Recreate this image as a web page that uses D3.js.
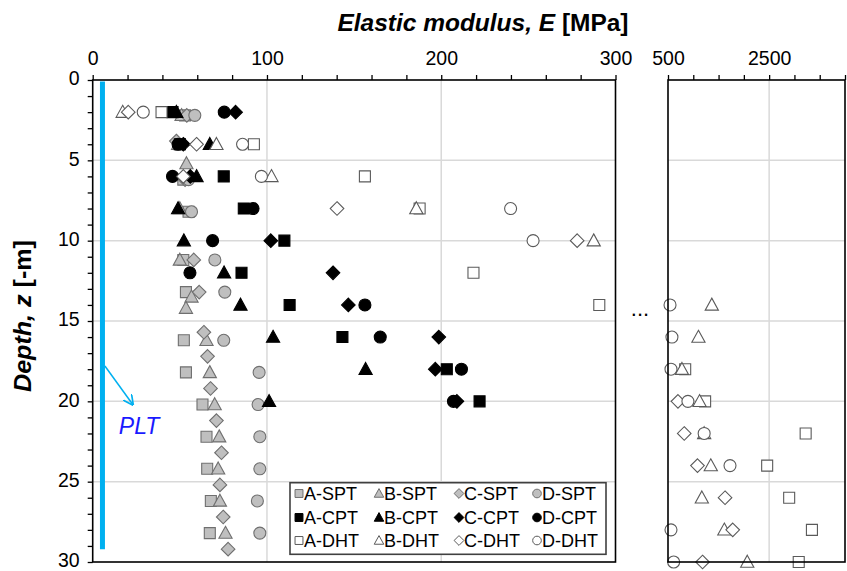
<!DOCTYPE html>
<html><head><meta charset="utf-8">
<script src="https://cdn.jsdelivr.net/npm/d3@7"></script>
<style>
body{margin:0;background:#fff}
svg{display:block}
text{font-family:"Liberation Sans",Arial,sans-serif}
</style></head>
<body><svg id="c" width="847" height="571"></svg>
<script>
// ---------- DATA (depth z [m], elastic modulus E [MPa]) ----------
const A_SPT_z = [2.2, 4, 6.2, 8.2, 11.2, 13.2, 16.2, 18.2, 20.2, 22.2, 24.2, 26.2, 28.2];
const A_SPT_E = [53, 50, 52, 55, 52, 53.5, 52.3, 53.5, 63, 65.3, 65.7, 67.8, 67.2];
const B_SPT_z = [2.2, 4, 5.2, 8, 11.2, 13.5, 14.2, 16.2, 18.2, 20.2, 22.2, 24.2, 26.2, 28.2];
const B_SPT_E = [51, 49, 53.8, 50, 50, 56.7, 53.5, 65.3, 67.2, 70, 72.6, 72, 73, 76.2];
const C_SPT_z = [2.2, 3.8, 6.2, 11.2, 13.2, 15.7, 17.2, 19.2, 21.2, 23.2, 25.2, 27.2, 29.2];
const C_SPT_E = [54, 48, 53, 58, 61.1, 63.8, 65.9, 67.6, 71, 73.9, 73, 74.9, 77.7];
const D_SPT_z = [2.2, 6.2, 8.2, 11.2, 13.2, 16.2, 18.2, 20.2, 22.2, 24.2, 26.2, 28.2];
const D_SPT_E = [58.6, 55, 56.7, 70.1, 75.8, 75.2, 95.5, 94.9, 95.9, 95.9, 94.5, 95.9];

const A_CPT_z = [2, 4, 6, 8, 10, 12, 14, 16, 18, 20];
const A_CPT_E = [45.8, 50, 75.2, 86.7, 110, 85.4, 113, 143.3, 203.2, 222];
const B_CPT_z = [2, 4, 6, 8, 10, 12, 14, 16, 18, 20];
const B_CPT_E = [48, 67.2, 59.6, 49, 52.3, 75.4, 84.8, 103.5, 156.6, 101.2];
const C_CPT_z = [2, 4, 6, 10, 12, 14, 16, 18, 20];
const C_CPT_E = [82, 52, 56, 102.2, 137.9, 146.7, 198.6, 196.6, 209];
const D_CPT_z = [2, 4, 6, 8, 10, 12, 14, 16, 18, 20];
const D_CPT_E = [75.5, 49, 45.8, 92, 68.8, 55.8, 156.2, 165, 211.6, 207];

const A_DHT_z = [2, 4, 6, 8, 12, 14, 18, 20, 22, 24, 26, 28, 30];
const A_DHT_E = [39.5, 92.5, 156.2, 187.6, 218.5, 290.7, 840, 1234, 3222, 2461, 2896, 3346, 3085];
const B_DHT_z = [2, 4, 6, 8, 10, 14, 16, 18, 20, 22, 24, 26, 28, 30];
const B_DHT_E = [17.2, 71, 102.6, 185.7, 287.5, 1366, 1102, 776, 1124, 1215, 1346, 1169, 1614, 2067];
const C_DHT_z = [2, 4, 6, 8, 10, 20, 22, 24, 26, 28, 30];
const C_DHT_E = [20.4, 59.6, 52, 140.2, 278, 697, 821, 1083, 1628, 1780, 1183];
const D_DHT_z = [2, 4, 6, 8, 10, 14, 16, 18, 20, 22, 24, 28, 30];
const D_DHT_E = [29, 86, 96.8, 239.8, 252.7, 540, 578, 559, 894, 1215, 1726, 559, 612];

const seriesNames = ["A-SPT","B-SPT","C-SPT","D-SPT","A-CPT","B-CPT","C-CPT","D-CPT","A-DHT","B-DHT","C-DHT","D-DHT"];
const xTicksMain = [0, 100, 200, 300];
const xTicksRight = [500, 2500];
const yTickLabels = [0, 5, 10, 15, 20, 25, 30];
const pltE = 5.6, pltTop = 0.1, pltBottom = 29.2;

// ---------- SETUP ----------
const svg = d3.select("#c");
const x1 = d3.scaleLinear().domain([0, 300]).range([92.7, 615.5]);
const x2 = d3.scaleLinear().domain([500, 4000]).range([668, 845]);
const y = d3.scaleLinear().domain([0, 30]).range([80, 562]);

const zs = [A_SPT_z,B_SPT_z,C_SPT_z,D_SPT_z,A_CPT_z,B_CPT_z,C_CPT_z,D_CPT_z,A_DHT_z,B_DHT_z,C_DHT_z,D_DHT_z];
const Es = [A_SPT_E,B_SPT_E,C_SPT_E,D_SPT_E,A_CPT_E,B_CPT_E,C_CPT_E,D_CPT_E,A_DHT_E,B_DHT_E,C_DHT_E,D_DHT_E];
const shapes = ["square","triangle","diamond","circle"];
const styles = [
  {fill:"#bfbfbf", stroke:"#6f6f6f"},
  {fill:"#000000", stroke:"#000000"},
  {fill:"#ffffff", stroke:"#5a5a5a"}
];

function shapePath(type, k){
  const s = k || 1;
  if(type==="square"){const h=5.5*s;return `M${-h},${-h}h${2*h}v${2*h}h${-2*h}Z`;}
  if(type==="diamond"){const h=6.8*s;return `M0,${-h}L${h},0L0,${h}L${-h},0Z`;}
  if(type==="triangle"){const w=6.6*s,t=6.8*s,b=5.2*s;return `M0,${-t}L${w},${b}L${-w},${b}Z`;}
  const r=6*s;return `M${r},0A${r},${r} 0 1,1 ${-r},0A${r},${r} 0 1,1 ${r},0Z`;
}

// ---------- GRID ----------
const grid = svg.append("g").attr("stroke","#d9d9d9").attr("stroke-width",1.5);
[5,10,15,20,25].forEach(d=>{
  grid.append("line").attr("x1",x1(0)).attr("x2",x1(300)).attr("y1",y(d)).attr("y2",y(d));
  grid.append("line").attr("x1",x2(500)).attr("x2",x2(4000)).attr("y1",y(d)).attr("y2",y(d));
});
[100,200].forEach(v=>grid.append("line").attr("x1",x1(v)).attr("x2",x1(v)).attr("y1",y(0)).attr("y2",y(30)));
grid.append("line").attr("x1",x2(2500)).attr("x2",x2(2500)).attr("y1",y(0)).attr("y2",y(30));

// ---------- PLT line and annotation ----------
svg.append("line").attr("x1",x1(pltE)).attr("x2",x1(pltE)).attr("y1",y(pltTop)).attr("y2",y(pltBottom))
  .attr("stroke","#00b0f0").attr("stroke-width",5);
svg.append("defs").append("marker").attr("id","arr").attr("viewBox","0 0 10 10").attr("refX",9).attr("refY",5)
  .attr("markerWidth",7).attr("markerHeight",7).attr("orient","auto")
  .append("path").attr("d","M0,0L10,5L0,10").attr("fill","none").attr("stroke","#00b0f0").attr("stroke-width",1.6);
svg.append("line").attr("x1",x1(7)).attr("y1",y(17.8)).attr("x2",x1(23)).attr("y2",y(20.2))
  .attr("stroke","#00b0f0").attr("stroke-width",1.5).attr("marker-end","url(#arr)");
svg.append("text").attr("x",x1(15)).attr("y",y(22.05)).attr("font-size",23).attr("font-style","italic")
  .attr("fill","#1a1aff").text("PLT");

// ---------- POINTS ----------
const pts = svg.append("g");
Es.forEach((vals, si)=>{
  const shp = shapes[si%4], st = styles[Math.floor(si/4)];
  vals.forEach((E,i)=>{
    const px = E <= 300 ? x1(E) : x2(E);
    pts.append("path").attr("d",shapePath(shp,1)).attr("transform",`translate(${px},${y(zs[si][i])})`)
      .attr("fill",st.fill).attr("stroke",st.stroke).attr("stroke-width",1.1);
  });
});

// ---------- AXES ----------
function styleAxis(g){
  g.select(".domain").remove();
  g.selectAll(".tick line").attr("stroke","#000").attr("stroke-width",1.3);
  g.selectAll(".tick text").attr("font-size",19.5).attr("fill","#000").attr("font-family","Liberation Sans, Arial, sans-serif");
}
svg.append("g").attr("transform",`translate(0,${y(0)})`)
  .call(d3.axisTop(x1).tickValues(d3.range(0,301,20)).tickSize(5).tickPadding(10)
    .tickFormat(d=>xTicksMain.includes(d)?d:"")).call(styleAxis);
svg.append("g").attr("transform",`translate(0,${y(0)})`)
  .call(d3.axisTop(x2).tickValues(d3.range(500,4001,500)).tickSize(5).tickPadding(10)
    .tickFormat(d=>xTicksRight.includes(d)?d:"")).call(styleAxis);
svg.append("g").attr("transform",`translate(${x1(0)},0)`)
  .call(d3.axisLeft(y).tickValues(d3.range(0,31,1)).tickSize(5).tickPadding(8)
    .tickFormat(d=>yTickLabels.includes(d)?d:"")).call(styleAxis)
  .call(g=>g.selectAll(".tick text").attr("dy","0.25em"));

// frames
svg.append("rect").attr("x",x1(0)).attr("y",y(0)).attr("width",x1(300)-x1(0)).attr("height",y(30)-y(0))
  .attr("fill","none").attr("stroke","#000").attr("stroke-width",1.6);
svg.append("rect").attr("x",x2(500)).attr("y",y(0)).attr("width",x2(4000)-x2(500)).attr("height",y(30)-y(0))
  .attr("fill","none").attr("stroke","#000").attr("stroke-width",1.6);

// break dots
svg.append("text").attr("x",640).attr("y",316).attr("text-anchor","middle").attr("font-size",22).text("...");

// titles
const tt = svg.append("text").attr("x",483).attr("y",31).attr("text-anchor","middle").attr("font-size",23)
  .attr("font-weight","bold").attr("textLength",291).attr("lengthAdjust","spacingAndGlyphs");
tt.append("tspan").attr("font-style","italic").text("Elastic modulus, E");
tt.append("tspan").text(" [MPa]");
const yt = svg.append("text").attr("transform","translate(31,316) rotate(-90)").attr("text-anchor","middle")
  .attr("font-size",23).attr("font-weight","bold").attr("textLength",152).attr("lengthAdjust","spacingAndGlyphs");
yt.append("tspan").attr("font-style","italic").text("Depth, z");
yt.append("tspan").text(" [-m]");

// ---------- LEGEND ----------
const lg = svg.append("g");
lg.append("rect").attr("x",290).attr("y",482.7).attr("width",316).attr("height",71.6)
  .attr("fill","#fff").attr("stroke","#404040").attr("stroke-width",1.6);
const colX = [299, 379, 459, 537], rowY = [493.5, 517.5, 540.5];
seriesNames.forEach((nm, si)=>{
  const c = si%4, r = Math.floor(si/4), st = styles[r];
  lg.append("path").attr("d",shapePath(shapes[c],0.72)).attr("transform",`translate(${colX[c]},${rowY[r]})`)
    .attr("fill",st.fill).attr("stroke",st.stroke).attr("stroke-width",1);
  lg.append("text").attr("x",colX[c]+5).attr("y",rowY[r]+6.5).attr("font-size",18).text(nm);
});
</script></body></html>
